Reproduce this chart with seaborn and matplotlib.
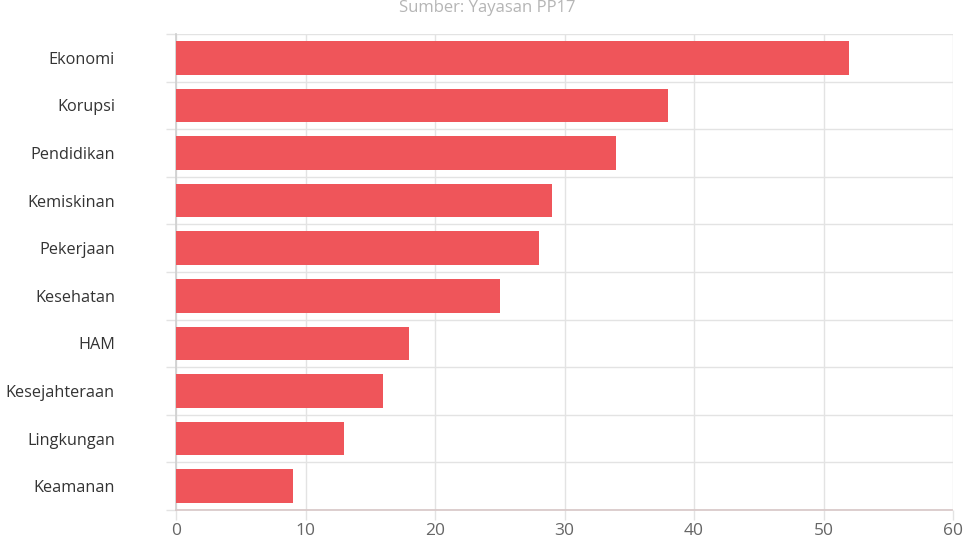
import matplotlib
matplotlib.use("Agg")
import matplotlib.pyplot as plt
import seaborn as sns
import pandas as pd
import numpy as np

categories = ["Ekonomi", "Korupsi", "Pendidikan", "Kemiskinan", "Pekerjaan",
              "Kesehatan", "HAM", "Kesejahteraan", "Lingkungan", "Keamanan"]
values = [52, 38, 34, 29, 28, 25, 18, 16, 13, 9]
x_ticks = [0, 10, 20, 30, 40, 50, 60]
subtitle = "Sumber: Yayasan PP17"

sns.set_theme(style="white")
plt.rcParams["font.family"] = ["Open Sans", "DejaVu Sans"]

df = pd.DataFrame({"kategori": categories, "nilai": values})

fig = plt.figure(figsize=(9.68, 5.43), dpi=100)
ax = fig.add_axes([176/968, 1 - 510/543, (953 - 176)/968, (510 - 34)/543])

sns.barplot(data=df, y="kategori", x="nilai", color="#EF555A", saturation=1,
            orient="h", width=0.71, ax=ax, zorder=3, edgecolor="none")

ax.set_xlim(0, 60)
ax.set_ylim(len(categories) - 0.5, -0.5)
ax.set_xticks(x_ticks)
ax.set_xticklabels([str(t) for t in x_ticks])
ax.set_xlabel("")
ax.set_ylabel("")

# grid lines
grid_c = "#E3E3E3"
for t in x_ticks:
    ax.axvline(t, color=grid_c, lw=1, zorder=1)
ax.set_yticks(np.arange(-0.5, len(categories), 1), minor=True)
ax.grid(False)
ax.grid(which="minor", axis="y", color=grid_c, lw=1, zorder=1)

ax.tick_params(axis="x", which="major", length=7.2, width=1, color=grid_c,
               labelsize=12.5, labelcolor="#666666", pad=2, direction="out", bottom=True)
ax.tick_params(axis="y", which="major", length=0, labelsize=11.7, labelcolor="#333333", pad=44)
ax.tick_params(axis="y", which="minor", length=7.2, width=1, color=grid_c, left=True, direction="out")

for s in ["top", "right"]:
    ax.spines[s].set_visible(False)
ax.spines["left"].set_color("#D0D0D0")
ax.spines["bottom"].set_color("#D8C8C8")
ax.spines["bottom"].set_linestyle((0, (1, 1)))

fig.text(487/968, 1 - 11.5/543, subtitle, ha="center", va="baseline",
         fontsize=12, color="#B5B5B5")

fig.savefig("out.png", dpi=100)
